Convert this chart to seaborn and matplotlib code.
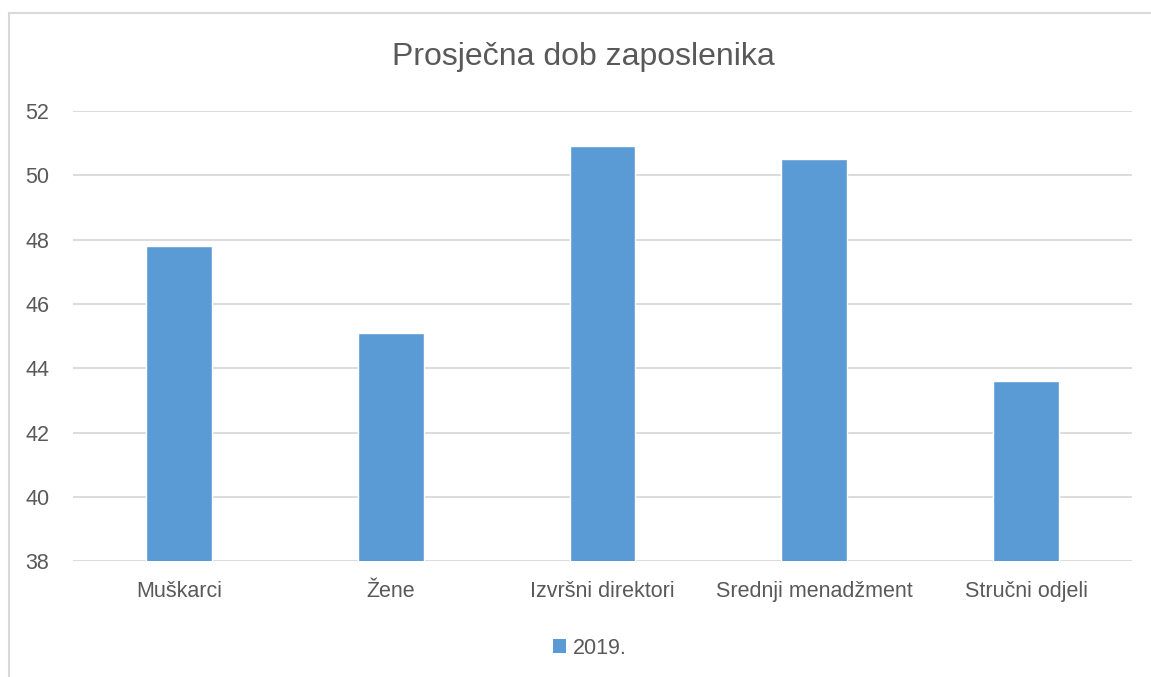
import matplotlib
matplotlib.use("Agg")
import matplotlib.pyplot as plt
import seaborn as sns
import pandas as pd
from matplotlib.patches import Patch
from matplotlib.lines import Line2D

categories = ["Muškarci", "Žene", "Izvršni direktori", "Srednji menadžment", "Stručni odjeli"]
values_2019 = [47.8, 45.1, 50.9, 50.5, 43.6]
series_name = "2019."
title = "Prosječna dob zaposlenika"
y_ticks = [38, 40, 42, 44, 46, 48, 50, 52]

BAR = "#5B9BD5"
TXT = "#595959"
GRID = "#D9D9D9"

sns.set_theme(style="white")
plt.rcParams["font.family"] = ["Liberation Sans", "DejaVu Sans"]

df = pd.DataFrame({"cat": categories, "val": values_2019})

fig = plt.figure(figsize=(11.51, 6.77), dpi=100)
ax = fig.add_axes([73/1151, 1 - 561.3/677, (1132-73)/1151, (561.3-111)/677])

sns.barplot(data=df, x="cat", y="val", color=BAR, width=0.31, saturation=1,
            ax=ax, zorder=3, errorbar=None)

ax.set_ylim(38, 52)
ax.set_yticks(y_ticks)
ax.set_xlim(-0.5, len(categories) - 0.5)
ax.yaxis.grid(True, color=GRID, linewidth=1.3, zorder=0)
ax.xaxis.grid(False)
ax.set_axisbelow(True)
for s in ax.spines.values():
    s.set_visible(False)
ax.set_xlabel("")
ax.set_ylabel("")
ax.tick_params(axis="both", colors=TXT, labelsize=15.5, length=0)
ax.tick_params(axis="y", pad=17)
ax.tick_params(axis="x", pad=14)

fig.text(583/1151, 1 - 57/677, title, ha="center", va="center", fontsize=23, color=TXT)

handles = [Patch(facecolor=BAR, edgecolor="none", label=series_name)]
fig.legend(handles=handles, loc="center", bbox_to_anchor=(590/1151, 1 - 648/677),
           frameon=False, fontsize=15.5, labelcolor=TXT, handlelength=0.6,
           handleheight=0.6, handletextpad=0.3)

# outer chart frame (left and top edges visible)
fig.add_artist(Line2D([9/1151, 9/1151], [0, 1 - 12.5/677], color=GRID, linewidth=1.5,
                      transform=fig.transFigure))
fig.add_artist(Line2D([9/1151, 1], [1 - 12.5/677, 1 - 12.5/677], color=GRID, linewidth=1.5,
                      transform=fig.transFigure))

fig.savefig("out.png", dpi=100, facecolor="white")
